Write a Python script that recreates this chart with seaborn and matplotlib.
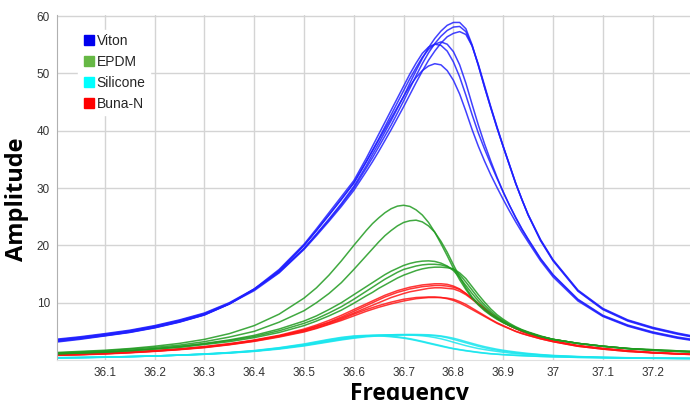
import pandas as pd
import matplotlib.pyplot as plt
import seaborn as sns
from matplotlib.lines import Line2D

# frequency grid shared by all sweeps (finer around the resonance)
freq = [36.00, 36.05, 36.10, 36.15, 36.20, 36.25, 36.30, 36.35, 36.40, 36.45, 36.50,
        36.525, 36.55, 36.575, 36.60, 36.625,
        36.6375, 36.65, 36.6625, 36.675, 36.6875, 36.70, 36.7125, 36.725, 36.7375,
        36.75, 36.7625, 36.775, 36.7875, 36.80, 36.8125, 36.825, 36.8375, 36.85,
        36.8625, 36.875, 36.8875, 36.90, 36.9125, 36.925, 36.9375, 36.95,
        36.975, 37.00, 37.05, 37.10, 37.15, 37.20, 37.25, 37.28]

viton_runs = [
    [3.6, 4.05, 4.6, 5.2, 6.0, 7.0, 8.2, 10.0, 12.4, 15.4, 19.5, 22.0, 24.6, 27.3, 30.3, 33.9,
     35.9, 37.8, 39.8, 41.8, 43.9, 46.0, 48.3, 50.5, 52.6, 54.5, 56.1, 57.4, 58.4, 58.9, 58.9, 57.8, 55.0, 51.4, 47.6, 44.0, 40.5, 37.2, 34.0, 30.8, 28.0, 25.4,
     21.0, 17.5, 12.2, 9.0, 7.0, 5.7, 4.7, 4.2],
    [3.5, 3.95, 4.5, 5.1, 5.9, 6.9, 8.1, 9.9, 12.3, 15.3, 19.4, 21.9, 24.4, 27.1, 30.0, 33.5,
     35.3, 37.2, 39.1, 41.0, 43.1, 45.2, 47.4, 49.6, 51.7, 53.6, 55.2, 56.5, 57.5, 58.1, 58.2, 57.3, 54.8, 51.4, 47.6, 44.0, 40.5, 37.2, 34.0, 30.8, 28.0, 25.3,
     20.9, 17.4, 12.1, 8.9, 6.9, 5.6, 4.6, 4.1],
    [3.45, 3.9, 4.45, 5.05, 5.85, 6.85, 8.0, 9.8, 12.1, 15.2, 19.3, 21.7, 24.2, 26.8, 29.6, 32.9,
     34.6, 36.4, 38.3, 40.2, 42.2, 44.2, 46.3, 48.4, 50.4, 52.3, 53.9, 55.3, 56.4, 57.0, 57.3, 56.8, 54.8, 51.6, 47.9, 44.2, 40.7, 37.3, 34.1, 30.9, 28.0, 25.3,
     20.8, 17.3, 12.0, 8.8, 6.8, 5.5, 4.5, 4.0],
    [3.3, 3.75, 4.3, 4.9, 5.7, 6.7, 7.9, 9.8, 12.3, 15.6, 20.0, 22.6, 25.3, 28.0, 30.9, 34.6,
     36.6, 38.6, 40.7, 42.8, 44.9, 47.0, 49.1, 51.0, 52.8, 54.2, 55.1, 55.5, 55.1, 53.8, 51.5, 48.3, 44.6, 41.0, 37.7, 34.7, 31.9, 29.3, 27.0, 24.9, 22.9, 21.1,
     17.7, 14.9, 10.6, 7.8, 6.1, 4.9, 4.0, 3.6],
    [3.2, 3.7, 4.25, 4.85, 5.65, 6.65, 7.9, 9.8, 12.4, 15.8, 20.2, 22.9, 25.7, 28.5, 31.3, 35.2,
     37.3, 39.4, 41.5, 43.6, 45.7, 47.8, 49.9, 51.8, 53.5, 54.6, 55.1, 54.9, 53.9, 52.0, 49.4, 46.2, 42.8, 39.6, 36.8, 34.2, 31.7, 29.3, 27.0, 24.8, 22.8, 21.0,
     17.6, 14.8, 10.5, 7.7, 6.0, 4.8, 3.9, 3.5],
    [3.1, 3.6, 4.2, 4.8, 5.6, 6.6, 7.85, 9.75, 12.3, 15.6, 20.0, 22.6, 25.3, 28.1, 30.9, 34.6,
     36.5, 38.4, 40.3, 42.2, 44.1, 46.0, 47.8, 49.3, 50.5, 51.3, 51.7, 51.5, 50.5, 48.8, 46.4, 43.4, 40.2, 37.3, 34.7, 32.3, 30.1, 28.0, 26.0, 24.1, 22.3, 20.6,
     17.3, 14.5, 10.3, 7.6, 5.9, 4.7, 3.8, 3.4],
]

epdm_runs = [
    [1.3, 1.5, 1.7, 2.0, 2.4, 2.9, 3.6, 4.6, 6.0, 8.0, 10.8, 12.6, 14.8, 17.3, 20.0, 22.6,
     23.8, 24.8, 25.7, 26.4, 26.85, 27.0, 26.8, 26.2, 25.3, 24.0, 22.3, 20.3, 18.2, 16.0, 14.0, 12.3, 10.8, 9.6, 8.6, 7.8, 7.1, 6.5, 6.0, 5.5, 5.1, 4.7,
     4.1, 3.6, 2.9, 2.4, 2.0, 1.8, 1.6, 1.5],
    [1.2, 1.4, 1.6, 1.9, 2.2, 2.6, 3.2, 4.0, 5.0, 6.6, 8.6, 10.0, 11.6, 13.5, 15.8, 18.2,
     19.4, 20.6, 21.7, 22.6, 23.4, 24.0, 24.3, 24.4, 24.1, 23.4, 22.3, 20.7, 18.8, 16.6, 14.5, 12.6, 11.0, 9.8, 8.8, 7.9, 7.2, 6.6, 6.1, 5.6, 5.2, 4.8,
     4.1, 3.6, 2.9, 2.4, 2.0, 1.8, 1.6, 1.5],
    [1.1, 1.25, 1.45, 1.7, 2.0, 2.4, 2.9, 3.5, 4.3, 5.4, 6.8, 7.7, 8.8, 10.0, 11.4, 12.8,
     13.5, 14.2, 14.9, 15.5, 16.0, 16.5, 16.85, 17.1, 17.25, 17.3, 17.2, 16.9, 16.4, 15.6, 14.4, 13.0, 11.6, 10.3, 9.2, 8.2, 7.4, 6.7, 6.1, 5.6, 5.2, 4.8,
     4.1, 3.6, 2.9, 2.4, 2.0, 1.7, 1.5, 1.4],
    [1.1, 1.25, 1.4, 1.65, 1.95, 2.3, 2.8, 3.4, 4.1, 5.1, 6.4, 7.2, 8.2, 9.3, 10.6, 12.0,
     12.7, 13.4, 14.1, 14.7, 15.3, 15.8, 16.1, 16.4, 16.6, 16.7, 16.7, 16.6, 16.3, 15.8, 14.9, 13.6, 12.2, 10.8, 9.6, 8.5, 7.6, 6.9, 6.2, 5.7, 5.2, 4.8,
     4.1, 3.6, 2.9, 2.4, 2.0, 1.7, 1.5, 1.4],
    [1.05, 1.2, 1.35, 1.6, 1.9, 2.2, 2.7, 3.2, 3.9, 4.8, 6.0, 6.8, 7.7, 8.7, 9.9, 11.2,
     11.8, 12.5, 13.1, 13.7, 14.3, 14.8, 15.2, 15.6, 15.9, 16.1, 16.2, 16.2, 16.1, 15.9, 15.2, 14.2, 12.8, 11.4, 10.1, 8.9, 7.9, 7.1, 6.4, 5.8, 5.3, 4.9,
     4.2, 3.6, 2.9, 2.4, 2.0, 1.7, 1.5, 1.4],
]

silicone_runs = [
    [0.4, 0.45, 0.5, 0.6, 0.7, 0.85, 1.0, 1.25, 1.55, 2.0, 2.55, 2.9, 3.25, 3.6, 3.9, 4.15,
     4.23, 4.3, 4.36, 4.4, 4.43, 4.45, 4.46, 4.45, 4.43, 4.4, 4.32, 4.2, 4.02, 3.8, 3.52, 3.2, 2.9, 2.6, 2.33, 2.1, 1.88, 1.7, 1.54, 1.4, 1.27, 1.15,
     0.95, 0.8, 0.6, 0.48, 0.4, 0.34, 0.3, 0.28],
    [0.4, 0.45, 0.5, 0.6, 0.7, 0.85, 1.0, 1.2, 1.5, 1.9, 2.45, 2.8, 3.15, 3.5, 3.8, 4.05,
     4.13, 4.2, 4.26, 4.3, 4.33, 4.35, 4.36, 4.35, 4.33, 4.3, 4.22, 4.1, 3.88, 3.6, 3.3, 3.0, 2.7, 2.4, 2.14, 1.9, 1.72, 1.55, 1.4, 1.25, 1.14, 1.05,
     0.9, 0.75, 0.58, 0.46, 0.38, 0.33, 0.29, 0.27],
    [0.35, 0.4, 0.48, 0.58, 0.7, 0.85, 1.05, 1.3, 1.65, 2.15, 2.8, 3.2, 3.6, 3.95, 4.2, 4.3,
     4.32, 4.3, 4.24, 4.15, 4.04, 3.9, 3.72, 3.5, 3.26, 3.0, 2.75, 2.5, 2.24, 2.0, 1.82, 1.65, 1.5, 1.35, 1.22, 1.1, 1.02, 0.95, 0.88, 0.82, 0.77, 0.72,
     0.63, 0.56, 0.46, 0.39, 0.34, 0.3, 0.27, 0.26],
    [0.35, 0.4, 0.48, 0.58, 0.7, 0.85, 1.05, 1.3, 1.6, 2.1, 2.7, 3.1, 3.5, 3.85, 4.1, 4.2,
     4.22, 4.2, 4.14, 4.05, 3.94, 3.8, 3.62, 3.4, 3.16, 2.9, 2.65, 2.4, 2.17, 1.95, 1.77, 1.6, 1.45, 1.3, 1.18, 1.08, 1.0, 0.92, 0.86, 0.8, 0.75, 0.7,
     0.62, 0.55, 0.45, 0.38, 0.33, 0.29, 0.26, 0.25],
    [0.38, 0.43, 0.5, 0.6, 0.7, 0.85, 1.0, 1.25, 1.55, 2.0, 2.6, 2.95, 3.35, 3.7, 4.0, 4.2,
     4.29, 4.35, 4.38, 4.4, 4.41, 4.4, 4.36, 4.3, 4.22, 4.1, 3.92, 3.7, 3.42, 3.1, 2.8, 2.5, 2.24, 2.0, 1.82, 1.65, 1.5, 1.35, 1.22, 1.1, 1.02, 0.95,
     0.82, 0.7, 0.55, 0.44, 0.37, 0.32, 0.28, 0.27],
]

bunan_runs = [
    [0.9, 1.0, 1.15, 1.35, 1.6, 1.9, 2.3, 2.8, 3.5, 4.3, 5.4, 6.1, 6.9, 7.8, 8.8, 9.8,
     10.3, 10.8, 11.3, 11.7, 12.1, 12.4, 12.7, 12.9, 13.1, 13.2, 13.3, 13.3, 13.2, 12.9, 12.4, 11.6, 10.7, 9.8, 8.9, 8.0, 7.3, 6.6, 6.0, 5.5, 5.0, 4.6,
     3.9, 3.3, 2.5, 2.0, 1.6, 1.3, 1.1, 1.0],
    [0.95, 1.05, 1.2, 1.4, 1.65, 1.95, 2.35, 2.85, 3.4, 4.2, 5.2, 5.9, 6.6, 7.5, 8.5, 9.5,
     10.0, 10.5, 11.0, 11.4, 11.8, 12.1, 12.4, 12.6, 12.8, 12.9, 13.0, 13.0, 12.9, 12.7, 12.3, 11.6, 10.8, 9.9, 9.0, 8.1, 7.3, 6.6, 6.0, 5.5, 5.0, 4.6,
     3.9, 3.3, 2.5, 2.0, 1.6, 1.3, 1.1, 1.0],
    [0.85, 0.95, 1.1, 1.3, 1.55, 1.85, 2.25, 2.75, 3.4, 4.2, 5.2, 5.8, 6.5, 7.3, 8.2, 9.1,
     9.55, 10.0, 10.45, 10.9, 11.25, 11.6, 11.9, 12.1, 12.3, 12.5, 12.6, 12.6, 12.5, 12.4, 12.0, 11.4, 10.6, 9.7, 8.8, 8.0, 7.3, 6.6, 6.0, 5.5, 5.0, 4.6,
     3.9, 3.3, 2.5, 2.0, 1.6, 1.3, 1.1, 1.0],
    [0.85, 0.95, 1.1, 1.3, 1.55, 1.85, 2.2, 2.7, 3.3, 4.1, 5.0, 5.6, 6.3, 7.1, 8.0, 8.8,
     9.15, 9.5, 9.8, 10.1, 10.35, 10.6, 10.75, 10.9, 10.95, 11.0, 11.0, 10.9, 10.7, 10.4, 9.95, 9.4, 8.8, 8.2, 7.6, 7.0, 6.4, 5.9, 5.45, 5.0, 4.6, 4.3,
     3.7, 3.2, 2.4, 1.9, 1.5, 1.25, 1.05, 0.95],
    [0.8, 0.9, 1.05, 1.25, 1.5, 1.8, 2.15, 2.65, 3.25, 4.0, 4.9, 5.5, 6.2, 6.9, 7.7, 8.5,
     8.85, 9.2, 9.5, 9.8, 10.05, 10.3, 10.5, 10.7, 10.8, 10.9, 10.9, 10.9, 10.8, 10.6, 10.2, 9.7, 9.05, 8.4, 7.75, 7.1, 6.5, 6.0, 5.5, 5.0, 4.65, 4.3,
     3.7, 3.2, 2.4, 1.9, 1.5, 1.25, 1.05, 0.95],
]

materials = ['Viton', 'EPDM', 'Silicone', 'Buna-N']
line_colors = {'Viton': '#1f1fff', 'EPDM': '#1f9a1f', 'Silicone': '#19e6ee', 'Buna-N': '#ff1414'}
legend_colors = ['#0000ee', '#66b845', '#00ffff', '#ff0000']

# long table: one row per (material, run, frequency)
rows = []
for name, runs in zip(materials, [viton_runs, epdm_runs, silicone_runs, bunan_runs]):
    for i, run in enumerate(runs):
        assert len(run) == len(freq), (name, i, len(run))
        for f, a in zip(freq, run):
            rows.append({'Frequency': f, 'Amplitude': a, 'Material': name, 'Run': f'{name}_{i}'})
df = pd.DataFrame(rows)

sns.set_style('whitegrid')
fig = plt.figure(figsize=(6.9, 4.0), dpi=100)
ax = fig.add_axes([57 / 690, 40 / 400, 633 / 690, 345 / 400])

# silicone first, viton last (on top)
for name in ['Silicone', 'Buna-N', 'EPDM', 'Viton']:
    sub = df[df['Material'] == name]
    sns.lineplot(data=sub, x='Frequency', y='Amplitude', units='Run', estimator=None,
                 color=line_colors[name], linewidth=1.1, alpha=0.85, ax=ax, legend=False)

ax.set_xlim(36.004, 37.275)
ax.set_ylim(0, 60.2)
ax.set_xticks([36.1, 36.2, 36.3, 36.4, 36.5, 36.6, 36.7, 36.8, 36.9, 37.0, 37.1, 37.2])
ax.set_xticklabels(['36.1', '36.2', '36.3', '36.4', '36.5', '36.6', '36.7', '36.8', '36.9', '37', '37.1', '37.2'],
                   family='Liberation Sans')
ax.set_yticks([10, 20, 30, 40, 50, 60])
ax.set_yticklabels(['10', '20', '30', '40', '50', '60'], family='Liberation Sans')
ax.tick_params(labelsize=8.5, colors='#333333', length=0, pad=5)
ax.grid(True, color='#d4d4d4', linewidth=1.0)
for s in ['top', 'right']:
    ax.spines[s].set_visible(False)
ax.spines['left'].set_color('#b0b0b0')
ax.spines['bottom'].set_color('#e0e0e0')

ax.set_xlabel('Frequency', fontsize=16.5, fontweight='bold', family='Open Sans', color='black')
ax.set_ylabel('Amplitude', fontsize=17, fontweight='bold', family='Open Sans', color='black')
ax.xaxis.set_label_coords(0.556, -0.064)
ax.yaxis.set_label_coords(-0.045, 0.465)

handles = [Line2D([0], [0], marker='s', linestyle='', markersize=6.5, markerfacecolor=c, markeredgecolor=c)
           for c in legend_colors]
leg = ax.legend(handles, materials, loc='upper left', bbox_to_anchor=(0.022, 0.978),
                prop={'family': 'Liberation Sans', 'size': 10},
                frameon=True, facecolor='white', edgecolor='white', framealpha=1,
                handletextpad=0.05, handlelength=1.0, labelspacing=0.5, borderpad=0.3)

plt.savefig('out.png', dpi=100)
plt.close()
